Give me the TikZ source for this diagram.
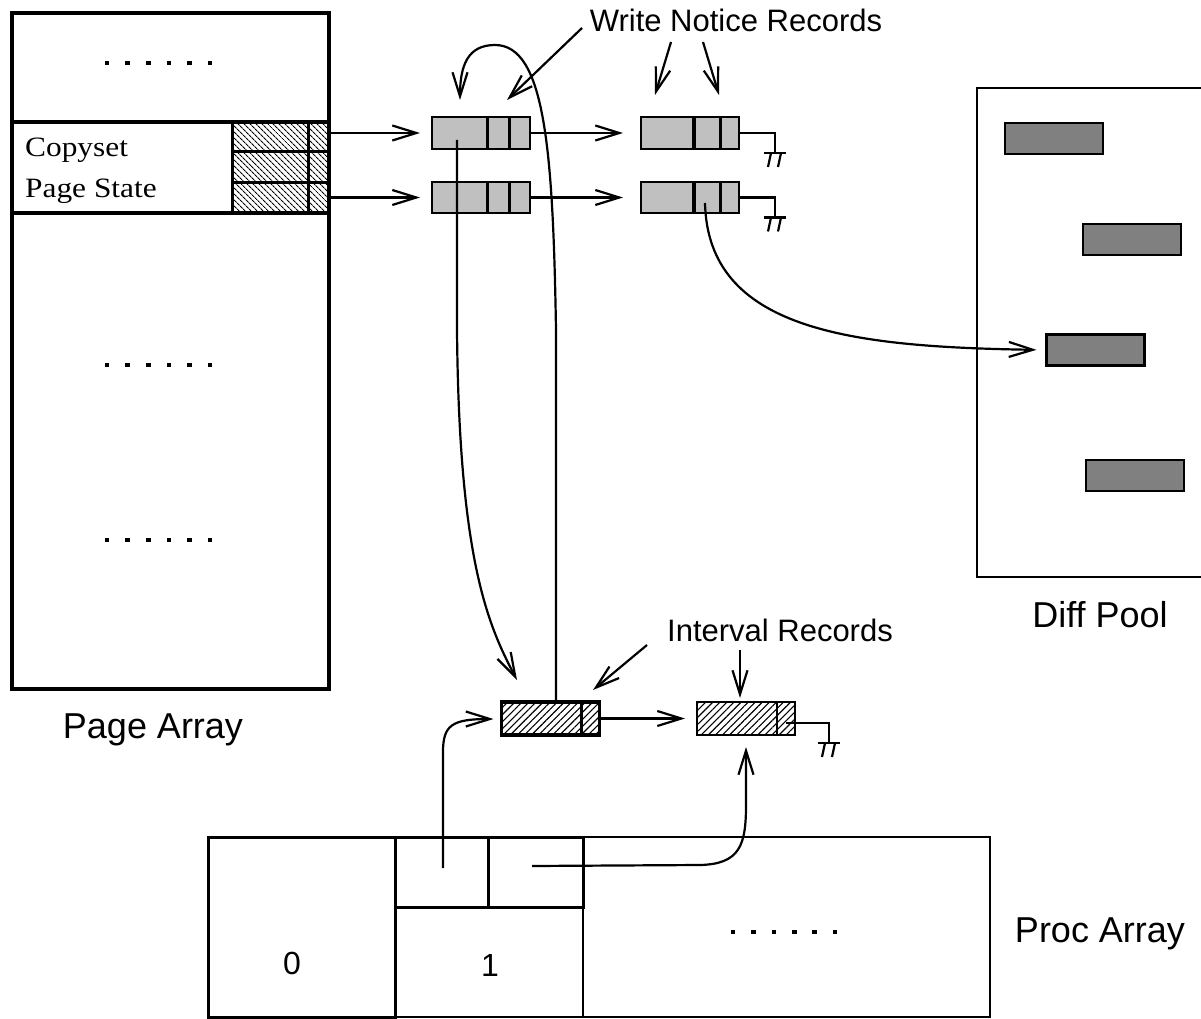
\documentclass[tikz,border=0pt]{standalone}
\usepackage{fontspec}
\setmainfont{Liberation Sans}
\newfontfamily\wideserif[FakeStretch=1.12]{Liberation Serif}
\usetikzlibrary{arrows.meta,patterns.meta}
\definecolor{wngray}{RGB}{192,192,192}
\definecolor{diffgray}{RGB}{128,128,128}
\begin{document}
\begin{tikzpicture}[x=1pt,y=-1pt,
  conn/.style={line width=2.2pt,-{Straight Barb[length=24pt,width=15pt,line width=2.2pt]}},
  plain/.style={line width=2.2pt},
  rec/.style={draw,inner sep=0pt,outer sep=0pt},
  wnbox/.style={rec,fill=wngray,line width=2.2pt,minimum width=98pt,minimum height=32pt},
  diffbox/.style={rec,fill=diffgray,line width=2.5pt,minimum width=98pt,minimum height=31pt},
  irbox/.style={rec,fill=white,minimum width=98pt,minimum height=33pt,
     postaction={pattern={Lines[angle=45,distance=5pt,line width=1.1pt]}}},
  cell/.style={rec,fill=white,postaction={pattern={Lines[angle=-45,distance=4pt,line width=1.1pt]}},line width=3pt},
  lbl/.style={font=\fontsize{31}{37}\selectfont,inner sep=0pt},
  biglbl/.style={font=\fontsize{36}{42}\selectfont,inner sep=0pt},
  numlbl/.style={font=\fontsize{32}{38}\selectfont,inner sep=0pt},
  sertxt/.style={font=\wideserif\fontsize{28}{33}\selectfont,inner sep=0pt},
  dot/.style={fill=black},
  gnd/.pic={\draw[line width=2.2pt] (-11,0) -- (11,0);
            \draw[line width=2.2pt] (-4,0) -- (-7,14);
            \draw[line width=2.2pt] (6,0) -- (3,14);}
]
\useasboundingbox (0,0) rectangle (1201,1019);

% ---------------- Page array ----------------
\node[rec,line width=4.5pt,minimum width=317pt,minimum height=676pt] (pa) at (170.5,351) {};
\node[cell,minimum width=76pt,minimum height=30pt] (r1a) at (270,137) {};
\node[cell,minimum width=21pt,minimum height=30pt] (r1b) at (318.5,137) {};
\node[cell,minimum width=76pt,minimum height=31pt] (r2a) at (270,167.5) {};
\node[cell,minimum width=21pt,minimum height=31pt] (r2b) at (318.5,167.5) {};
\node[cell,minimum width=76pt,minimum height=30pt] (r3a) at (270,198) {};
\node[cell,minimum width=21pt,minimum height=30pt] (r3b) at (318.5,198) {};
\draw[line width=4.5pt] (pa.north east) -- (pa.south east);
\draw[line width=4pt] (pa.west |- 0,122) -- (pa.east |- 0,122);
\draw[line width=4pt] (pa.west |- 0,213) -- (pa.east |- 0,213);
\node[sertxt,anchor=base west] (copyset) at (25,157) {Copyset};
\node[sertxt,anchor=base west] (pstate) at (25,197) {Page State};
\foreach \yy in {63,365,540}{
  \foreach \k in {0,...,5}{
    \fill[dot] ({107+20.6*\k-2.3},\yy-2.3) rectangle ++(4.6,4.6);
  }
}
\node[biglbl,anchor=base] (palbl) at (153,738) {Page Array};

% ---------------- Write notice records ----------------
\node[wnbox] (wn11) at (481,133) {};
\node[wnbox] (wn12) at (690,133) {};
\node[wnbox,minimum height=31pt] (wn21) at (481,197.5) {};
\node[wnbox,minimum height=31pt] (wn22) at (690,197.5) {};
\draw[line width=3pt] (487,117) -- (487,149);
\draw[line width=3pt] (509,117) -- (509,149);
\draw[line width=3pt] (487,182) -- (487,213);
\draw[line width=3pt] (509,182) -- (509,213);
\draw[line width=4.5pt] (694,117) -- (694,149);
\draw[line width=3pt] (720,117) -- (720,149);
\draw[line width=4.5pt] (694,182) -- (694,213);
\draw[line width=3pt] (720,182) -- (720,213);

\draw[conn,shorten >=12pt] (pa.east |- wn11) -- (wn11.west);
\draw[conn,shorten >=12pt] (pa.east |- wn21) -- (wn21.west);
\draw[conn,shorten >=18pt] (wn11.east) -- (wn12.west);
\draw[conn,shorten >=18pt] (wn21.east) -- (wn22.west);
\draw[plain] (wn12.east) -- ++(36,0) coordinate (g1a) -- ++(0,20) coordinate (g1);
\pic at (g1) {gnd};
\draw[plain] (wn22.east) -- ++(36,0) coordinate (g2a) -- ++(0,20) coordinate (g2);
\pic at (g2) {gnd};

\node[lbl,anchor=base] (wnlbl) at (736,32) {Write Notice Records};
\coordinate (wnt1) at (582,28);
\coordinate (wnh1) at (507,100);
\coordinate (wnt2) at (671,42);
\coordinate (wnh2) at (655,95);
\coordinate (wnt3) at (703,42);
\coordinate (wnh3) at (719,95);
\draw[conn] (wnt1) -- (wnh1);
\draw[conn] (wnt2) -- (wnh2);
\draw[conn] (wnt3) -- (wnh3);

% ---------------- Diff pool ----------------
\draw[line width=2.5pt] (1203,88) -- (977,88) -- (977,577) -- (1203,577);
\node[diffbox] (d1) at (1054,138.5) {};
\node[diffbox] (d2) at (1132,239.5) {};
\node[diffbox] (d3) at (1095.5,350) {};
\node[diffbox] (d4) at (1135,475.5) {};
\node[biglbl,anchor=base] (dplbl) at (1100,627) {Diff Pool};

\coordinate (wn22in) at (705,203);
\draw[conn,shorten >=10pt] (wn22in) .. controls (708,330) and (850,347) .. (d3.west);

% ---------------- Interval records ----------------
\node[irbox,line width=3.5pt] (ir1) at (550.5,718.5) {};
\node[irbox,line width=2.2pt] (ir2) at (746,718.5) {};
\draw[line width=3pt] (581,702) -- (581,735);
\draw[line width=2.5pt] (777,702) -- (777,735);
\draw[conn,shorten >=12pt] (ir1.east) -- (ir2.west);
\coordinate (ir2in) at (786,723);
\draw[plain] (ir2in) -- (829,723) -- (829,743) coordinate (g3);
\pic at (g3) {gnd};

\node[lbl,anchor=base] (irlbl) at (780,641) {Interval Records};
\coordinate (irt1) at (647,645);
\coordinate (irh1) at (593,690);
\coordinate (irt2) at (740,650);
\coordinate (irh2) at (740,698);
\draw[conn] (irt1) -- (irh1);
\draw[conn] (irt2) -- (irh2);

% long connectors between interval and write notice records
\coordinate (irup) at (556,702);
\coordinate (wntop) at (460,100);
\draw[conn] (irup) -- (556,330) .. controls (553,150) and (545,45) .. (495,45)
   .. controls (468,45) and (460,65) .. (wntop);
\coordinate (wn11in) at (457,140);
\coordinate (irtip) at (517,680);
\draw[conn] (wn11in) -- (457,330) .. controls (459,560) and (488,625) .. (irtip);

% ---------------- Proc array ----------------
\node[rec,line width=2pt,minimum width=407pt,minimum height=180pt] (prest) at (786.5,927) {};
\node[rec,line width=2.5pt,minimum width=188pt,minimum height=110pt] (p1) at (489,962) {};
\node[rec,line width=3pt,minimum width=187pt,minimum height=180pt] (p0) at (301.5,927) {};
\node[rec,line width=3pt,minimum width=93pt,minimum height=70pt] (pa1) at (441.5,872) {};
\node[rec,line width=3pt,minimum width=95pt,minimum height=70pt] (pb1) at (535.5,872) {};
\draw[line width=2pt] (583,837) -- (583,1017);
\draw[line width=2pt] (583,837) -- (990,837);
\node[numlbl,anchor=base] (l0) at (292,974) {0};
\node[numlbl,anchor=base] (l1) at (490,976) {1};
\foreach \k in {0,...,5}{
  \fill[dot] ({733+20.4*\k-2.3},929.7) rectangle ++(4.6,4.6);
}
\node[biglbl,anchor=base] (prlbl) at (1100,942) {Proc Array};

\coordinate (pain) at (443,868);
\draw[conn,shorten >=8pt] (pain) -- (443,752) .. controls (443,725) and (452,719) .. (ir1.west |- 0,719);
\coordinate (pbin) at (532,866);
\draw[conn,shorten >=12pt] (pbin) -- (700,865) .. controls (740,864) and (746,845) .. (746,805) -- (ir2.south);
\end{tikzpicture}
\end{document}
